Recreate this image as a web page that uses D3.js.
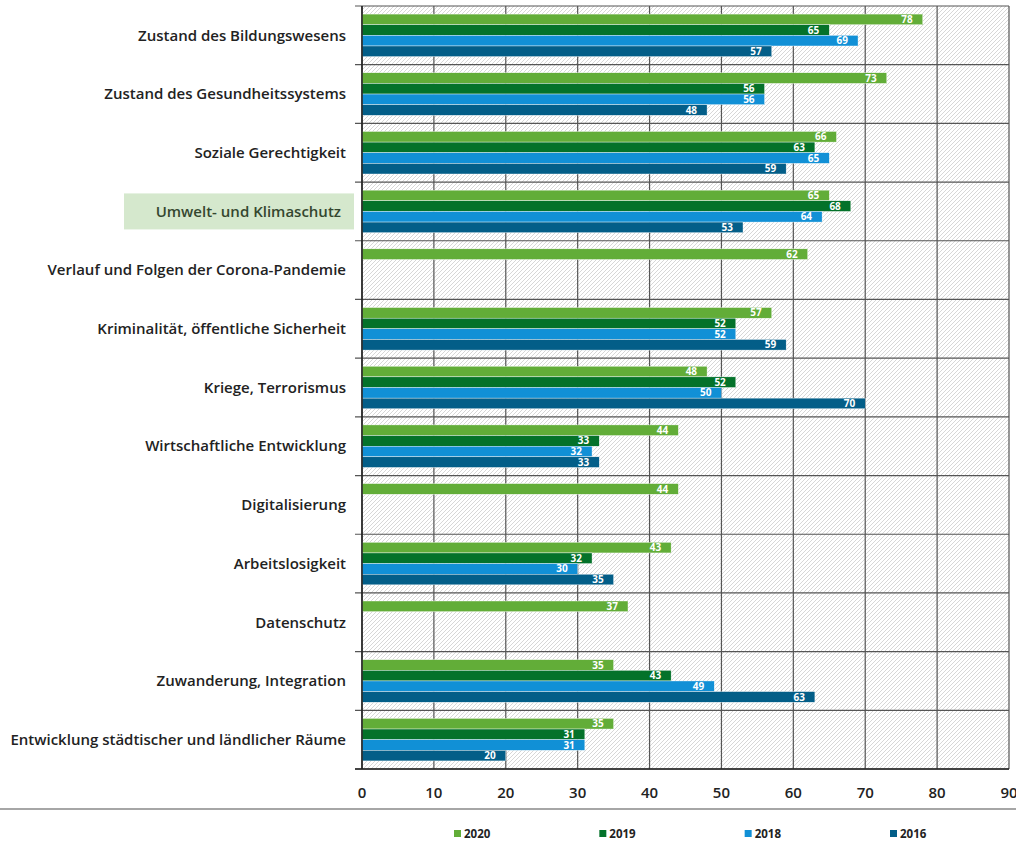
<!DOCTYPE html>
<html>
<head>
<meta charset="utf-8">
<script src="https://cdn.jsdelivr.net/npm/d3@7"></script>
<style>
  body { margin: 0; background: #fff; }
  svg { display: block; font-family: "Open Sans", "Noto Sans", sans-serif; }
</style>
</head>
<body>
<script>
// data (percent)
let categories = [
  "Zustand des Bildungswesens",
  "Zustand des Gesundheitssystems",
  "Soziale Gerechtigkeit",
  "Umwelt- und Klimaschutz",
  "Verlauf und Folgen der Corona-Pandemie",
  "Kriminalität, öffentliche Sicherheit",
  "Kriege, Terrorismus",
  "Wirtschaftliche Entwicklung",
  "Digitalisierung",
  "Arbeitslosigkeit",
  "Datenschutz",
  "Zuwanderung, Integration",
  "Entwicklung städtischer und ländlicher Räume"
];
let years = ["2020", "2019", "2018", "2016"];
let v2020 = [78, 73, 66, 65, 62, 57, 48, 44, 44, 43, 37, 35, 35];
let v2019 = [65, 56, 63, 68, null, 52, 52, 33, null, 32, null, 43, 31];
let v2018 = [69, 56, 65, 64, null, 52, 50, 32, null, 30, null, 49, 31];
let v2016 = [57, 48, 59, 53, null, 59, 70, 33, null, 35, null, 63, 20];
let xTicks = [0, 10, 20, 30, 40, 50, 60, 70, 80, 90];
let highlighted = "Umwelt- und Klimaschutz";

let colors = ["#62ad38", "#04722a", "#1190d6", "#035e88"];
let colorScale = d3.scaleOrdinal().domain(years).range(colors);

let svgWidth = 1016, svgHeight = 841;
let margins = { left: 362, top: 6, right: 7, bottom: 72 };
let width = svgWidth - margins.left - margins.right;
let height = svgHeight - margins.top - margins.bottom;

let series = [v2020, v2019, v2018, v2016];
let rows = [];
categories.forEach((c, i) => {
  years.forEach((y, j) => {
    if (series[j][i] != null) rows.push({ cat: c, year: y, value: series[j][i] });
  });
});

let svg = d3.select("body").append("svg")
  .attr("width", svgWidth)
  .attr("height", svgHeight);

// hatch pattern for the plot background
let defs = svg.append("defs");
let pat = defs.append("pattern")
  .attr("id", "hatch")
  .attr("patternUnits", "userSpaceOnUse")
  .attr("width", 4).attr("height", 4);
pat.append("rect").attr("width", 4).attr("height", 4).attr("fill", "#fff");
pat.append("path")
  .attr("d", "M-1,1 L1,-1 M0,4 L4,0 M3,5 L5,3")
  .attr("stroke", "#d2d2d2")
  .attr("stroke-width", 0.9);

let container = svg.append("g")
  .attr("transform", `translate(${margins.left}, ${margins.top})`);

let xScale = d3.scaleLinear().domain([0, 90]).range([0, width]);
let yScale = d3.scaleBand().domain(categories).range([0, height]);
let inner = d3.scaleBand().domain(years).range([0, yScale.bandwidth()])
  .paddingOuter(0.76);

container.append("rect")
  .attr("width", width).attr("height", height)
  .attr("fill", "url(#hatch)");

// grid lines
container.selectAll(".vgrid").data(xTicks).join("line")
  .attr("class", "vgrid")
  .attr("x1", d => xScale(d)).attr("x2", d => xScale(d))
  .attr("y1", 0).attr("y2", height)
  .attr("stroke", "#555").attr("stroke-width", 1.2);
let bounds = categories.map(c => yScale(c)).concat([height]);
container.selectAll(".hgrid").data(bounds).join("line")
  .attr("class", "hgrid")
  .attr("x1", -7).attr("x2", width)
  .attr("y1", d => d).attr("y2", d => d)
  .attr("stroke", "#555").attr("stroke-width", 1.2);

// bars
let bars = container.selectAll(".bar").data(rows).join("g")
  .attr("class", "bar")
  .attr("transform", d => `translate(0, ${yScale(d.cat) + inner(d.year)})`);
bars.append("rect")
  .attr("width", d => xScale(d.value))
  .attr("height", inner.bandwidth())
  .attr("fill", d => colorScale(d.year))
  .attr("stroke", "#fff").attr("stroke-width", 0.4);
bars.append("text").text(d => d.value)
  .attr("x", d => xScale(d.value) - 10)
  .attr("y", inner.bandwidth() / 2)
  .attr("dy", "0.36em")
  .attr("text-anchor", "end")
  .attr("fill", "#fff")
  .attr("font-size", 10)
  .attr("font-weight", 700);

// axis lines
container.append("line")
  .attr("x1", 0).attr("x2", 0).attr("y1", 0).attr("y2", height)
  .attr("stroke", "#222").attr("stroke-width", 1.6);
container.append("line")
  .attr("x1", -7).attr("x2", width).attr("y1", height).attr("y2", height)
  .attr("stroke", "#222").attr("stroke-width", 1.6);

// x tick labels
container.selectAll(".xlab").data(xTicks).join("text")
  .attr("class", "xlab")
  .text(d => d)
  .attr("x", d => xScale(d))
  .attr("y", height + 29)
  .attr("text-anchor", "middle")
  .attr("fill", "#222")
  .attr("font-size", 15)
  .attr("font-weight", 600);

// highlight box behind one category
svg.append("rect")
  .attr("x", 124).attr("width", 230)
  .attr("y", margins.top + yScale(highlighted) + yScale.bandwidth() / 2 - 18)
  .attr("height", 36)
  .attr("fill", "#d5e8cd");

// category labels
svg.selectAll(".catlab").data(categories).join("text")
  .attr("class", "catlab")
  .text(d => d)
  .attr("x", d => d === highlighted ? 341 : 346)
  .attr("y", d => margins.top + yScale(d) + yScale.bandwidth() / 2)
  .attr("dy", "0.35em")
  .attr("text-anchor", "end")
  .attr("fill", d => d === highlighted ? "#34472f" : "#222")
  .attr("font-size", 15)
  .attr("font-weight", 600);

// separator line
svg.append("line")
  .attr("x1", 0).attr("x2", svgWidth).attr("y1", 809).attr("y2", 809)
  .attr("stroke", "#888").attr("stroke-width", 1.5);

// legend
let legendX = d3.scalePoint().domain(years).range([454, 890]);
let legend = svg.append("g").selectAll(".leg").data(years).join("g")
  .attr("transform", d => `translate(${legendX(d)}, 834)`);
legend.append("rect")
  .attr("x", 0).attr("y", -4).attr("width", 7).attr("height", 7)
  .attr("fill", d => colorScale(d));
legend.append("text").text(d => d)
  .attr("x", 10).attr("y", 0).attr("dy", "0.35em")
  .attr("fill", "#222")
  .attr("font-size", 11.5)
  .attr("font-weight", 700);
</script>
</body>
</html>
